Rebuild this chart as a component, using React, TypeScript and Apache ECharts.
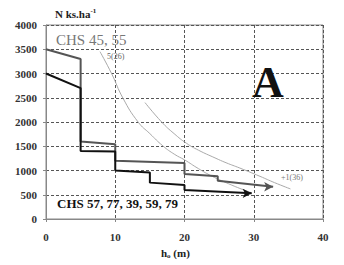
import React, { useEffect, useRef } from "react";
import * as echarts from "echarts";

// Stand density N (ks.ha-1) against top height h_o (m)
const xTicks = [0, 10, 20, 30, 40];
const yTicks = [0, 500, 1000, 1500, 2000, 2500, 3000, 3500, 4000];

// CHS 57, 77, 39, 59, 79 (black step line)
const darkStep: [number, number][] = [
  [0, 3000], [5, 2700], [5, 1400], [10, 1390], [10, 1000], [15, 960],
  [15, 750], [20, 700], [20, 600], [29.7, 530],
];
// CHS 45, 55 (grey step line)
const greyStep: [number, number][] = [
  [0, 3500], [5, 3300], [5, 1600], [10, 1540], [10, 1200], [20, 1155],
  [20, 930], [24.8, 880], [24.8, 790], [32.8, 665],
];
// thin curve 5(26)
const curve5: [number, number][] = [
  [7.8, 3450], [9.5, 2990], [11.1, 2495], [13.3, 2000], [15, 1760],
  [16.9, 1505], [18.6, 1330], [20, 1220], [22, 1040], [24, 880],
  [26, 750], [28, 630], [29.7, 540],
];
// thin curve +1(36)
const curve1: [number, number][] = [
  [14.3, 2400], [16.7, 2000], [18.5, 1760], [20.3, 1560], [22, 1420],
  [24.4, 1260], [26, 1160], [28, 1050], [30.9, 880], [33, 750], [35.3, 620],
];

const serif = "'Liberation Serif', 'DejaVu Serif', serif";

function withArrow(pts: [number, number][], color: string) {
  return pts.map((p, i) =>
    i === pts.length - 1
      ? {
          value: p,
          symbol: "arrow",
          symbolSize: [7, 9],
          symbolRotate: -90,
          itemStyle: { color },
        }
      : { value: p, symbol: "none" }
  );
}

export default function App() {
  const ref = useRef<HTMLDivElement>(null);
  useEffect(() => {
    if (!ref.current) return;
    const chart = echarts.init(ref.current, undefined, { renderer: "svg" });
    const gridLine = { show: true, lineStyle: { type: [3, 2], color: "#555", width: 1 } };
    chart.setOption({
      animation: false,
      backgroundColor: "#fff",
      grid: {
        left: 46,
        right: 21,
        top: 25,
        bottom: 46,
        show: true,
        borderColor: "#888",
        borderWidth: 1,
      },
      xAxis: {
        type: "value",
        min: xTicks[0],
        max: xTicks[xTicks.length - 1],
        interval: 10,
        axisLine: { lineStyle: { color: "#888" } },
        axisTick: { show: true, length: 3, lineStyle: { color: "#888" } },
        axisLabel: {
          fontFamily: serif,
          fontWeight: "bold",
          fontSize: 11,
          color: "#333",
          margin: 12,
          formatter: (v: number) => String(v),
        },
        splitLine: gridLine,
      },
      yAxis: {
        type: "value",
        min: yTicks[0],
        max: yTicks[yTicks.length - 1],
        interval: 500,
        axisLine: { show: true, lineStyle: { color: "#888" } },
        axisTick: { show: true, length: 3, lineStyle: { color: "#888" } },
        axisLabel: {
          fontFamily: serif,
          fontWeight: "bold",
          fontSize: 11,
          color: "#333",
          margin: 9,
          formatter: (v: number) => String(v),
        },
        splitLine: gridLine,
      },
      series: [
        {
          type: "line",
          data: curve5,
          smooth: true,
          symbol: "none",
          lineStyle: { color: "#aaa", width: 1 },
          z: 2,
        },
        {
          type: "line",
          data: curve1,
          smooth: true,
          symbol: "none",
          lineStyle: { color: "#aaa", width: 1 },
          z: 2,
        },
        {
          type: "line",
          data: withArrow(greyStep, "#555"),
          showSymbol: true,
          lineStyle: { color: "#555", width: 2 },
          z: 3,
        },
        {
          type: "line",
          data: withArrow(darkStep, "#111"),
          showSymbol: true,
          lineStyle: { color: "#111", width: 2 },
          z: 4,
        },
      ],
      graphic: [
        {
          type: "text",
          left: 55,
          top: 7,
          style: {
            text: "{b|N ks.ha}{s|-1}",
            rich: {
              b: { fontFamily: serif, fontWeight: "bold", fontSize: 11, fill: "#222" },
              s: { fontFamily: serif, fontWeight: "bold", fontSize: 7, fill: "#222", verticalAlign: "top", padding: [0, 0, 6, 0] },
            },
          },
        },
        {
          type: "text",
          left: 161,
          top: 247,
          style: {
            text: "{b|h}{s|o}{b| (m)}",
            rich: {
              b: { fontFamily: serif, fontWeight: "bold", fontSize: 11, fill: "#222" },
              s: { fontFamily: serif, fontWeight: "bold", fontSize: 7, fill: "#222", padding: [6, 0, 0, 0] },
            },
          },
        },
        {
          type: "text",
          left: 56,
          top: 32,
          style: {
            text: "CHS 45, 55",
            fontFamily: serif,
            fontSize: 15,
            fill: "#777",
          },
          z: 10,
        },
        {
          type: "text",
          left: 57,
          top: 197,
          style: {
            text: "CHS 57, 77, 39, 59, 79",
            fontFamily: serif,
            fontWeight: "bold",
            fontSize: 13,
            fill: "#111",
          },
          z: 10,
        },
        {
          type: "text",
          left: 107,
          top: 52,
          style: { text: "5(26)", fontFamily: serif, fontSize: 8, fill: "#666" },
          z: 10,
        },
        {
          type: "text",
          left: 281,
          top: 173,
          style: { text: "+1(36)", fontFamily: serif, fontSize: 8, fill: "#777" },
          z: 10,
        },
        {
          type: "text",
          left: 252,
          top: 60,
          style: {
            text: "A",
            fontFamily: serif,
            fontWeight: "bold",
            fontSize: 44,
            fill: "#111",
          },
          z: 10,
        },
      ],
    });
    return () => chart.dispose();
  }, []);
  return (
    <div
      ref={ref}
      style={{ position: "absolute", left: 0, top: 0, width: 344, height: 265 }}
    />
  );
}
